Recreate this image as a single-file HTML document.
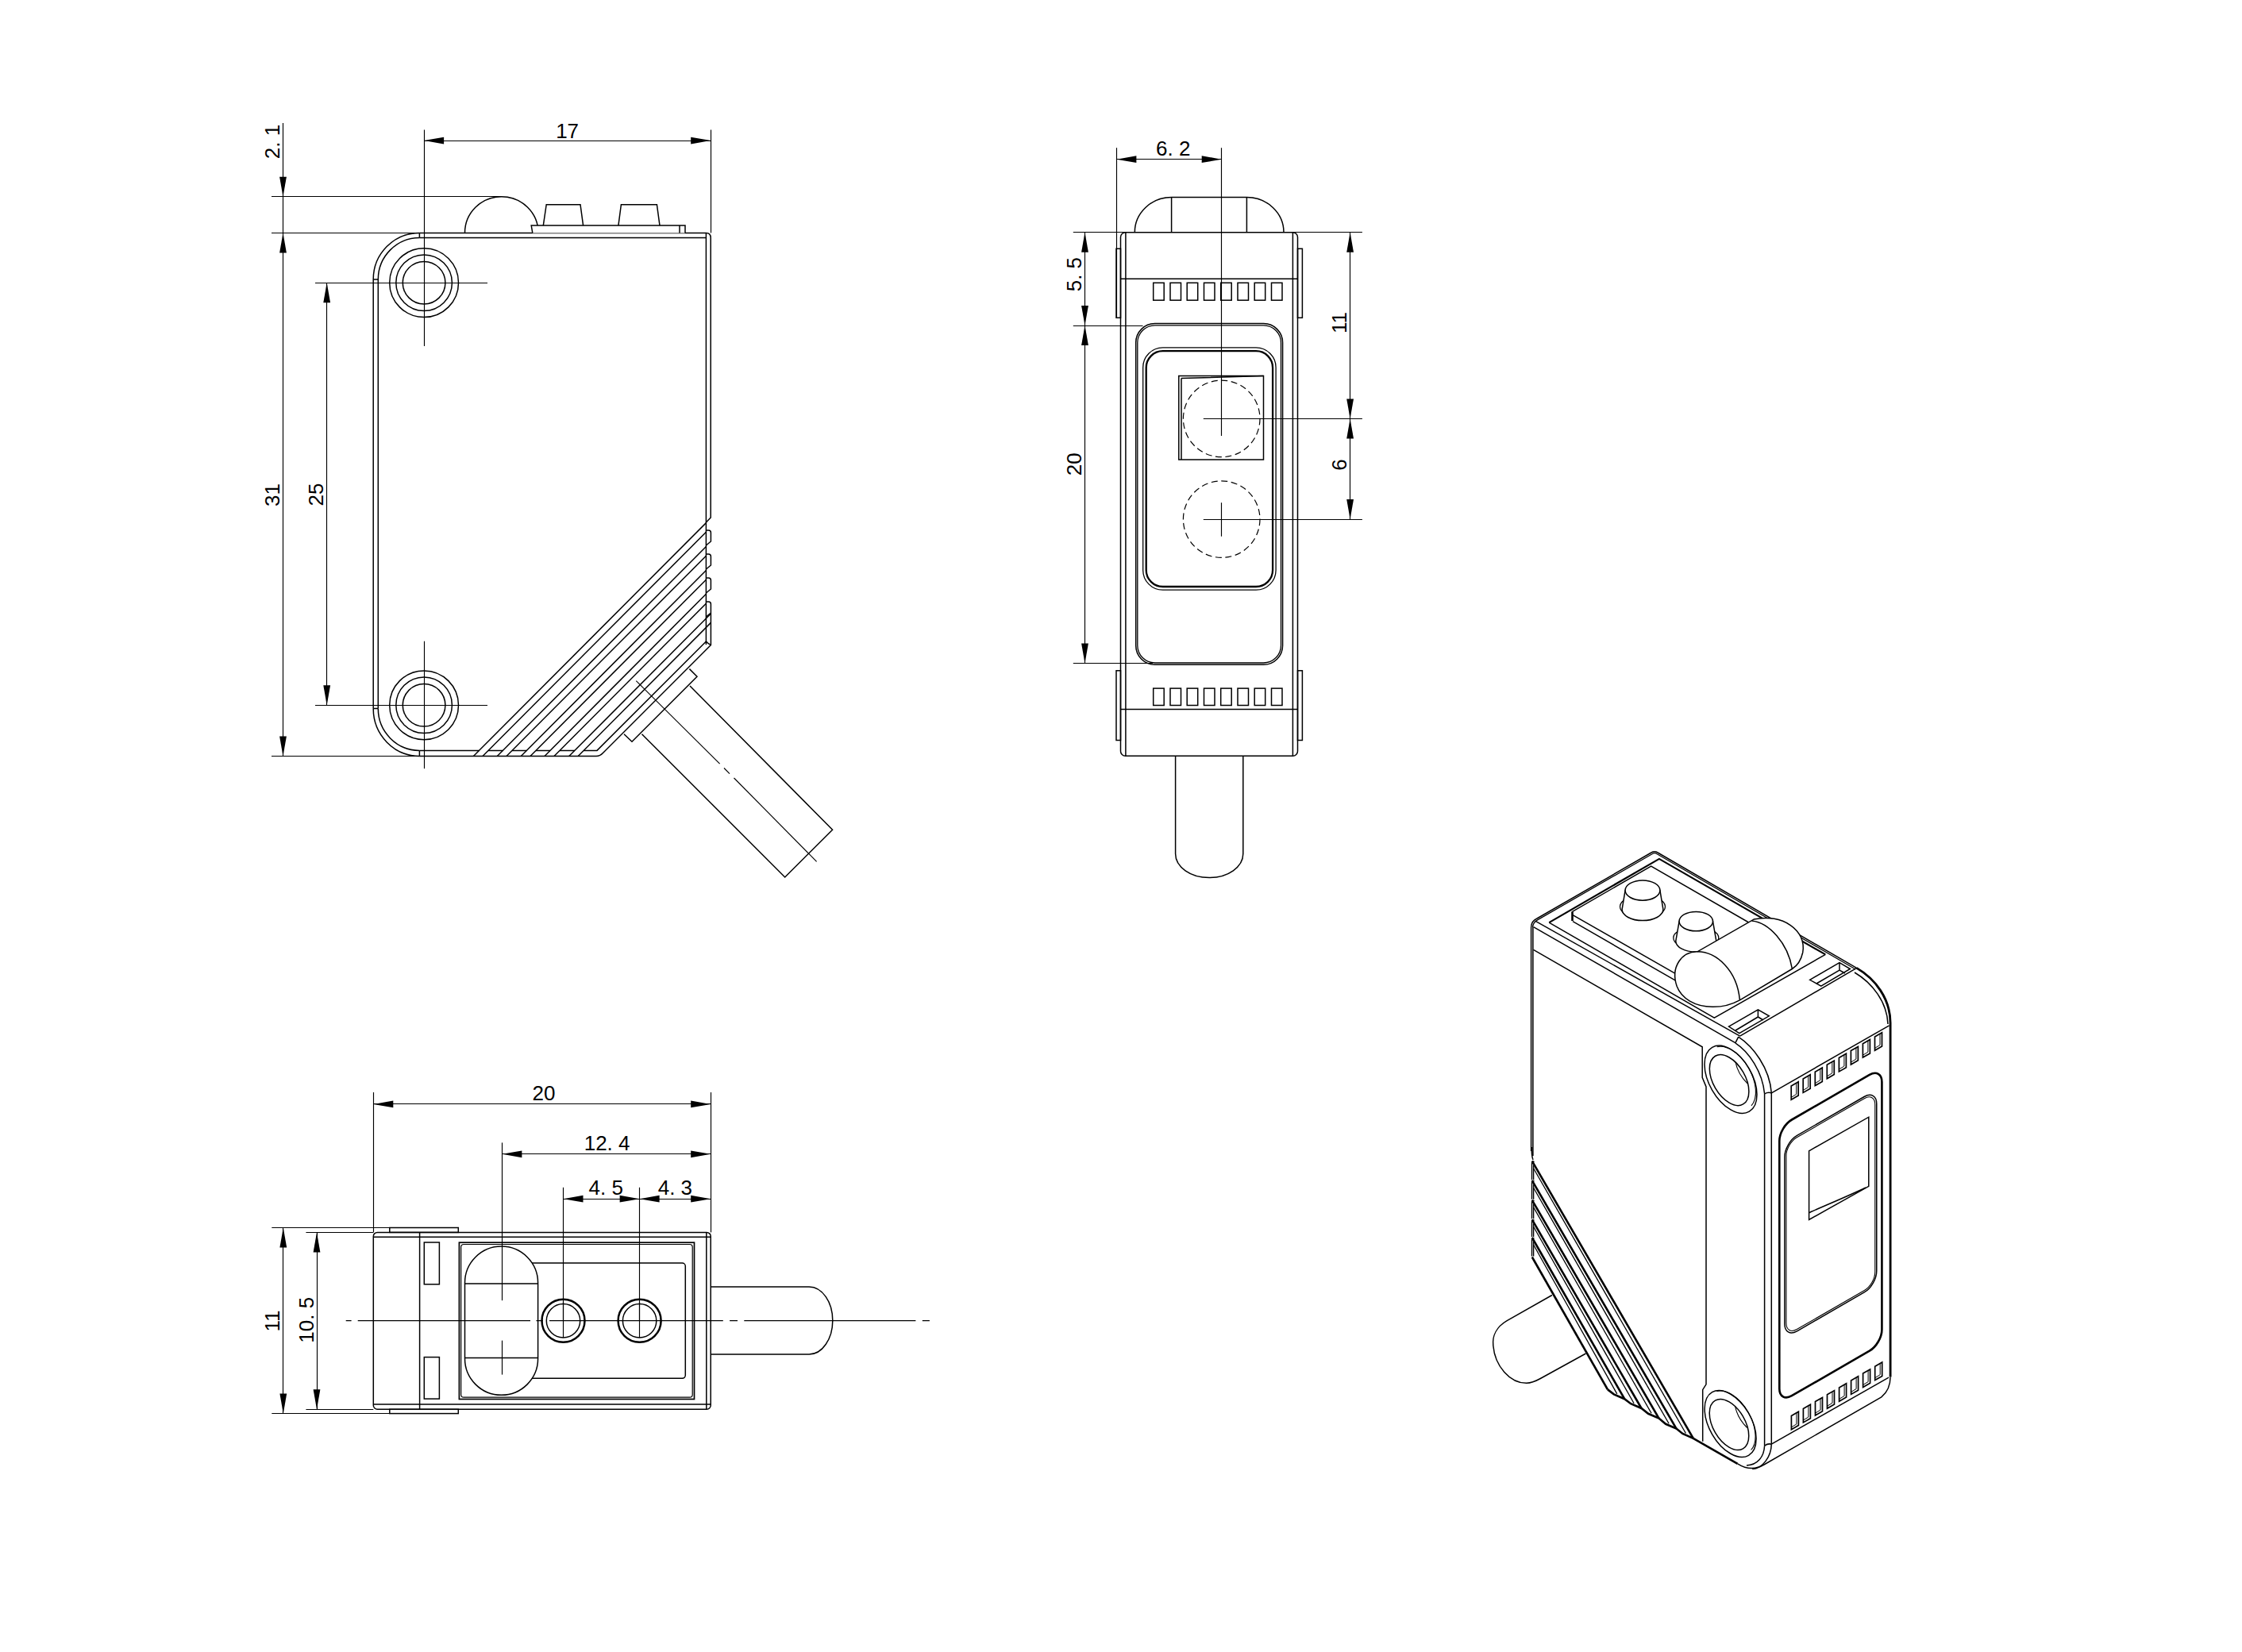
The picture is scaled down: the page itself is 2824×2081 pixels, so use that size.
<!DOCTYPE html>
<html><head><meta charset="utf-8"><style>
html,body{margin:0;padding:0;background:#fff;}
body{width:2824px;height:2081px;overflow:hidden;}
svg{display:block;}
text{font-family:"Liberation Sans",sans-serif;fill:#000;}
.o{stroke:#000;stroke-width:1.5;fill:none;}
.d{stroke:#000;stroke-width:1.15;fill:none;}
.a{fill:#000;stroke:none;}
.dash{stroke:#000;stroke-width:1.2;fill:none;stroke-dasharray:8 4.6;}
</style></head><body>
<svg width="2824" height="2081" viewBox="0 0 2824 2081">
<rect width="2824" height="2081" style="fill:#fff"/>
<line class="d" x1="534.5" y1="163.5" x2="534.5" y2="436.0"/>
<line class="d" x1="895.5" y1="163.5" x2="895.5" y2="293.4"/>
<line class="d" x1="534.1" y1="177.5" x2="895.2" y2="177.5"/>
<path class="a" d="M534.1,177.1 L559.1,172.7 L559.1,181.5Z"/>
<path class="a" d="M895.2,177.1 L870.2,181.5 L870.2,172.7Z"/>
<text x="714.6" y="173.5" font-size="26" text-anchor="middle">17</text>
<line class="d" x1="356.5" y1="155.0" x2="356.5" y2="952.5"/>
<path class="a" d="M356.5,247.7 L352.1,222.7 L360.9,222.7Z"/>
<path class="a" d="M356.5,293.4 L360.9,318.4 L352.1,318.4Z"/>
<path class="a" d="M356.5,952.5 L352.1,927.5 L360.9,927.5Z"/>
<line class="d" x1="342.0" y1="247.5" x2="632.0" y2="247.5"/>
<line class="d" x1="342.0" y1="293.5" x2="528.4" y2="293.5"/>
<line class="d" x1="342.0" y1="952.5" x2="528.4" y2="952.5"/>
<text x="0" y="0" transform="translate(351.5,178.5) rotate(-90)" font-size="26" text-anchor="middle">2. 1</text>
<text x="0" y="0" transform="translate(351.5,623.5) rotate(-90)" font-size="26" text-anchor="middle">31</text>
<line class="d" x1="411.5" y1="356.2" x2="411.5" y2="888.3"/>
<path class="a" d="M411.7,356.2 L416.1,381.2 L407.3,381.2Z"/>
<path class="a" d="M411.7,888.3 L407.3,863.3 L416.1,863.3Z"/>
<text x="0" y="0" transform="translate(406.5,623.0) rotate(-90)" font-size="26" text-anchor="middle">25</text>
<line class="d" x1="397.0" y1="356.5" x2="614.0" y2="356.5"/>
<line class="d" x1="397.0" y1="888.5" x2="614.0" y2="888.5"/>
<line class="d" x1="534.5" y1="807.7" x2="534.5" y2="968.2"/>
<path class="o" d="M528.4,293.4 L889.5,293.4 Q895.2,293.4 895.2,299.5 L895.2,652 L889.4,658" />
<path class="o" d="M528.4,299.5 L889.4,299.5 M889.4,293.4 L889.4,812" />
<path class="o" d="M470.2,352 L470.2,892.6 M476.3,352 L476.3,892.6" />
<path class="o" d="M470.2,352 A58.2,58.6 0 0 1 528.4,293.4 M476.3,352 A52.1,52.5 0 0 1 528.4,299.5" />
<path class="o" d="M470.2,352 L476.3,352 M528.4,293.4 L528.4,299.5 M470.2,892.6 L476.3,892.6 M528.4,952.5 L528.4,945.4" />
<path class="o" d="M470.2,892.6 A58.2,59.9 0 0 0 528.4,952.5 M476.3,892.6 A52.1,52.8 0 0 0 528.4,945.4" />
<path class="o" d="M528.4,952.5 L751,952.5 Q756,952.5 760,948 L895.4,812.5 M528.4,945.4 L603.5,945.4 M615.1,945.4 L633.4,945.4 M645.1,945.4 L663.4,945.4 M675.1,945.4 L693.1,945.4 M705.1,945.4 L723.9,945.4 M735.3,945.4 L752,945.4 L889.4,808 M889.4,808 Q892,811 895.4,812.5" />
<line class="o" x1="596.4" y1="952.5" x2="889.4" y2="658.6"/>
<line class="o" x1="608.0" y1="952.5" x2="889.4" y2="670.2"/>
<line class="o" x1="626.3" y1="952.5" x2="889.4" y2="688.5"/>
<line class="o" x1="638.0" y1="952.5" x2="889.4" y2="700.2"/>
<line class="o" x1="656.3" y1="952.5" x2="889.4" y2="718.5"/>
<line class="o" x1="668.0" y1="952.5" x2="889.4" y2="730.2"/>
<line class="o" x1="686.0" y1="952.5" x2="889.4" y2="748.2"/>
<line class="o" x1="698.0" y1="952.5" x2="889.4" y2="760.2"/>
<line class="o" x1="716.8" y1="952.5" x2="895.4" y2="773.0"/>
<line class="o" x1="728.2" y1="952.5" x2="895.4" y2="784.4"/>
<path class="o" d="M889.4,668 L892.5,668 Q895.4,668 895.4,671 L895.4,682 L889.4,687" />
<path class="o" d="M889.4,698 L892.5,698 Q895.4,698 895.4,701 L895.4,712 L889.4,717" />
<path class="o" d="M889.4,728 L892.5,728 Q895.4,728 895.4,731 L895.4,742 L889.4,747" />
<path class="o" d="M889.4,758 L892.5,758 Q895.4,758 895.4,761 L895.4,772 L889.4,777" />
<path class="o" d="M895.4,772 L895.4,813" />
<circle class="o" cx="534.1" cy="356.2" r="43.4" />
<circle class="o" cx="534.1" cy="356.2" r="35.3" />
<circle class="o" cx="534.1" cy="356.2" r="26.8" />
<circle class="o" cx="534.1" cy="888.3" r="43.4" />
<circle class="o" cx="534.1" cy="888.3" r="35.3" />
<circle class="o" cx="534.1" cy="888.3" r="26.8" />
<path class="o" d="M585.5,293.4 A46.2,45.7 0 0 1 678,293.4" />
<path class="o" d="M670.8,293.4 L669.2,284.1 L863,284.1 L863,293.4" style="fill:#fff"/>
<path class="o" d="M856,284.1 L856,293.4" />
<path class="o" d="M684.3,284.1 L688.2,257.7 L731,257.7 L734.6,284.1" />
<path class="o" d="M778.9,284.1 L782.4,257.7 L827.4,257.7 L831,284.1" />
<path class="o" d="M868.4,842.6 L878,852.3 L796,934.3 L786,924.7" />
<path class="o" d="M869,864 L1048.6,1045.3 L988.7,1105 L808.5,924.7" />
<line class="d" x1="801.3" y1="857.6" x2="906.6" y2="962.2"/>
<line class="d" x1="912.0" y1="967.5" x2="919.0" y2="974.6"/>
<line class="d" x1="924.5" y1="980.0" x2="1028.6" y2="1085.3"/>
<line class="d" x1="1406.5" y1="186.2" x2="1406.5" y2="400.3"/>
<line class="d" x1="1538.5" y1="186.2" x2="1538.5" y2="549.0"/>
<line class="d" x1="1406.4" y1="200.5" x2="1538.7" y2="200.5"/>
<path class="a" d="M1406.4,200.7 L1431.4,196.3 L1431.4,205.1Z"/>
<path class="a" d="M1538.7,200.7 L1513.7,205.1 L1513.7,196.3Z"/>
<text x="1477.7" y="195.6" font-size="26" text-anchor="middle">6. 2</text>
<line class="d" x1="1366.5" y1="292.7" x2="1366.5" y2="835.4"/>
<path class="a" d="M1366.5,292.7 L1370.9,317.7 L1362.1,317.7Z"/>
<path class="a" d="M1366.5,410.0 L1362.1,385.0 L1370.9,385.0Z"/>
<path class="a" d="M1366.5,410.0 L1370.9,435.0 L1362.1,435.0Z"/>
<path class="a" d="M1366.5,835.4 L1362.1,810.4 L1370.9,810.4Z"/>
<line class="d" x1="1351.8" y1="292.5" x2="1715.9" y2="292.5"/>
<line class="d" x1="1351.8" y1="410.5" x2="1439.5" y2="410.5"/>
<line class="d" x1="1351.8" y1="835.5" x2="1452.0" y2="835.5"/>
<text x="0" y="0" transform="translate(1362.0,345.6) rotate(-90)" font-size="26" text-anchor="middle">5. 5</text>
<text x="0" y="0" transform="translate(1362.0,584.7) rotate(-90)" font-size="26" text-anchor="middle">20</text>
<line class="d" x1="1700.5" y1="292.7" x2="1700.5" y2="654.1"/>
<path class="a" d="M1700.6,292.7 L1705.0,317.7 L1696.2,317.7Z"/>
<path class="a" d="M1700.6,527.4 L1696.2,502.4 L1705.0,502.4Z"/>
<path class="a" d="M1700.6,527.4 L1705.0,552.4 L1696.2,552.4Z"/>
<path class="a" d="M1700.6,654.1 L1696.2,629.1 L1705.0,629.1Z"/>
<text x="0" y="0" transform="translate(1695.5,406.6) rotate(-90)" font-size="26" text-anchor="middle">11</text>
<text x="0" y="0" transform="translate(1695.5,585.4) rotate(-90)" font-size="26" text-anchor="middle">6</text>
<line class="d" x1="1515.8" y1="527.5" x2="1715.9" y2="527.5"/>
<line class="d" x1="1515.8" y1="654.5" x2="1715.9" y2="654.5"/>
<line class="d" x1="1538.5" y1="633.2" x2="1538.5" y2="675.7"/>
<path class="o" d="M1429.3,292.7 A46.3,44.2 0 0 1 1475.6,248.5 L1570.4,248.5 A46.6,44.2 0 0 1 1617,292.7" />
<path class="o" d="M1475.6,248.5 L1475.6,292.7 M1570.4,248.5 L1570.4,292.7" />
<rect class="o" x="1411.5" y="292.7" width="223.0" height="659.6" rx="6" />
<path class="o" d="M1417.9,292.7 L1417.9,952.3 M1628.4,292.7 L1628.4,952.3" />
<path class="o" d="M1411.5,351.2 L1634.5,351.2 M1411.5,893.6 L1634.5,893.6" />
<rect class="o" x="1406.0" y="313.3" width="5.5" height="87.0" rx="0" />
<rect class="o" x="1634.5" y="313.3" width="5.9" height="87.0" rx="0" />
<rect class="o" x="1406.0" y="844.8" width="5.5" height="87.7" rx="0" />
<rect class="o" x="1634.5" y="844.8" width="5.9" height="87.7" rx="0" />
<rect class="o" x="1452.7" y="356.3" width="13.5" height="21.9" rx="0" />
<rect class="o" x="1452.7" y="867.1" width="13.5" height="21.4" rx="0" />
<rect class="o" x="1474.0" y="356.3" width="13.5" height="21.9" rx="0" />
<rect class="o" x="1474.0" y="867.1" width="13.5" height="21.4" rx="0" />
<rect class="o" x="1495.2" y="356.3" width="13.5" height="21.9" rx="0" />
<rect class="o" x="1495.2" y="867.1" width="13.5" height="21.4" rx="0" />
<rect class="o" x="1516.5" y="356.3" width="13.5" height="21.9" rx="0" />
<rect class="o" x="1516.5" y="867.1" width="13.5" height="21.4" rx="0" />
<rect class="o" x="1537.7" y="356.3" width="13.5" height="21.9" rx="0" />
<rect class="o" x="1537.7" y="867.1" width="13.5" height="21.4" rx="0" />
<rect class="o" x="1559.0" y="356.3" width="13.5" height="21.9" rx="0" />
<rect class="o" x="1559.0" y="867.1" width="13.5" height="21.4" rx="0" />
<rect class="o" x="1580.2" y="356.3" width="13.5" height="21.9" rx="0" />
<rect class="o" x="1580.2" y="867.1" width="13.5" height="21.4" rx="0" />
<rect class="o" x="1601.5" y="356.3" width="13.5" height="21.9" rx="0" />
<rect class="o" x="1601.5" y="867.1" width="13.5" height="21.4" rx="0" />
<rect class="o" x="1430.7" y="407.6" width="184.9" height="429.6" rx="24" />
<rect class="o" x="1432.8" y="409.8" width="180.7" height="425.2" rx="22" style="stroke-width:1.3"/>
<rect class="o" x="1439.7" y="437.9" width="167.4" height="305.3" rx="25" style="stroke-width:1.3"/>
<rect class="o" x="1443.7" y="442.2" width="159.4" height="296.8" rx="21" style="stroke-width:2.3"/>
<rect class="o" x="1484.8" y="473.5" width="106.7" height="105.5" rx="0" />
<path class="o" d="M1488,476.5 L1591.5,473.5 M1488,476.5 L1488,579" />
<circle class="dash" cx="1538.7" cy="527.4" r="48.3" />
<circle class="dash" cx="1538.7" cy="654.1" r="48.3" />
<path class="o" d="M1480.6,953 L1480.6,1075.6 A42.6,30 0 0 0 1565.8,1075.6 L1565.8,953" />
<rect class="o" x="470.3" y="1552.4" width="424.9" height="222.9" rx="5" />
<path class="o" d="M470.3,1558.2 L895.2,1558.2 M470.3,1769.1 L895.2,1769.1 M889.8,1552.4 L889.8,1775.3 M528.6,1552.4 L528.6,1775.3" />
<rect class="o" x="490.8" y="1546.5" width="86.5" height="5.9" rx="0" />
<rect class="o" x="490.8" y="1775.3" width="86.5" height="5.3" rx="0" />
<rect class="o" x="534.3" y="1565.0" width="19.1" height="52.8" rx="0" />
<rect class="o" x="534.3" y="1709.6" width="19.1" height="52.5" rx="0" />
<rect class="o" x="578.4" y="1565.2" width="296.1" height="197.3" rx="0" style="stroke-width:1.7"/>
<rect class="o" x="580.7" y="1567.5" width="291.5" height="192.7" rx="3.5" style="stroke-width:1.2"/>
<rect class="o" x="640.0" y="1591.1" width="223.3" height="145.2" rx="4" />
<path class="o" d="M631.5,1570.1 A46,46 0 0 1 677.6,1616 L677.6,1711.3 A46,46 0 0 1 585.5,1711.3 L585.5,1616 A46,46 0 0 1 631.5,1570.1Z" style="fill:#fff"/>
<path class="o" d="M585.5,1617 L677.6,1617 M585.5,1710.4 L677.6,1710.4" />
<line class="d" x1="632.5" y1="1688.6" x2="632.5" y2="1731.6"/>
<circle class="o" cx="709.5" cy="1663.7" r="27.0" style="stroke-width:2.5"/>
<circle class="o" cx="709.5" cy="1663.7" r="21.2" />
<circle class="o" cx="805.6" cy="1663.7" r="27.0" style="stroke-width:2.5"/>
<circle class="o" cx="805.6" cy="1663.7" r="21.2" />
<line class="d" x1="709.5" y1="1640.0" x2="709.5" y2="1685.0"/>
<line class="d" x1="805.5" y1="1640.0" x2="805.5" y2="1685.0"/>
<path class="o" d="M895.6,1621 L1019.2,1621 A29.6,42.45 0 0 1 1019.2,1705.9 L895.6,1705.9" />
<line class="d" x1="470.5" y1="1376.0" x2="470.5" y2="1552.4"/>
<line class="d" x1="895.5" y1="1376.0" x2="895.5" y2="1552.4"/>
<line class="d" x1="470.3" y1="1390.5" x2="895.2" y2="1390.5"/>
<path class="a" d="M470.3,1390.9 L495.3,1386.5 L495.3,1395.3Z"/>
<path class="a" d="M895.2,1390.9 L870.2,1395.3 L870.2,1386.5Z"/>
<text x="685.0" y="1386.3" font-size="26" text-anchor="middle">20</text>
<line class="d" x1="632.5" y1="1439.4" x2="632.5" y2="1638.2"/>
<line class="d" x1="632.4" y1="1453.5" x2="895.2" y2="1453.5"/>
<path class="a" d="M632.4,1453.8 L657.4,1449.4 L657.4,1458.2Z"/>
<path class="a" d="M895.2,1453.8 L870.2,1458.2 L870.2,1449.4Z"/>
<text x="764.6" y="1449.0" font-size="26" text-anchor="middle">12. 4</text>
<line class="d" x1="709.5" y1="1495.8" x2="709.5" y2="1663.6"/>
<line class="d" x1="805.5" y1="1495.8" x2="805.5" y2="1663.6"/>
<line class="d" x1="709.5" y1="1510.5" x2="895.2" y2="1510.5"/>
<path class="a" d="M709.5,1510.2 L734.5,1505.8 L734.5,1514.6Z"/>
<path class="a" d="M805.6,1510.2 L780.6,1514.6 L780.6,1505.8Z"/>
<path class="a" d="M805.6,1510.2 L830.6,1505.8 L830.6,1514.6Z"/>
<path class="a" d="M895.2,1510.2 L870.2,1514.6 L870.2,1505.8Z"/>
<text x="763.3" y="1504.8" font-size="26" text-anchor="middle">4. 5</text>
<text x="850.4" y="1504.8" font-size="26" text-anchor="middle">4. 3</text>
<line class="d" x1="356.5" y1="1546.5" x2="356.5" y2="1780.6"/>
<path class="a" d="M356.8,1546.5 L361.2,1571.5 L352.4,1571.5Z"/>
<path class="a" d="M356.8,1780.6 L352.4,1755.6 L361.2,1755.6Z"/>
<line class="d" x1="342.3" y1="1546.5" x2="577.3" y2="1546.5"/>
<line class="d" x1="342.3" y1="1780.5" x2="577.3" y2="1780.5"/>
<line class="d" x1="399.5" y1="1552.4" x2="399.5" y2="1775.3"/>
<path class="a" d="M399.0,1552.4 L403.4,1577.4 L394.6,1577.4Z"/>
<path class="a" d="M399.0,1775.3 L394.6,1750.3 L403.4,1750.3Z"/>
<line class="d" x1="385.4" y1="1552.5" x2="470.3" y2="1552.5"/>
<line class="d" x1="385.4" y1="1775.5" x2="470.3" y2="1775.5"/>
<text x="0" y="0" transform="translate(352.0,1664.0) rotate(-90)" font-size="26" text-anchor="middle">11</text>
<text x="0" y="0" transform="translate(394.5,1662.8) rotate(-90)" font-size="26" text-anchor="middle">10. 5</text>
<path class="d" d="M435.7,1663.6 L442.6,1663.6 M450.7,1663.6 L668,1663.6 M675.5,1663.6 L684,1663.6 M692,1663.6 L910.8,1663.6 M919.1,1663.6 L929,1663.6 M937.3,1663.6 L1153.4,1663.6 M1161.8,1663.6 L1170.9,1663.6"/>
<path class="o" d="M1928.6,1168 L1928.6,1450 M1930.9,1168 L1930.9,1456" />
<path class="o" d="M1928.6,1168 Q1929,1160 1936,1157 L2080,1074 Q2084.1,1071.5 2088,1074 L2338.6,1219.4" />
<path class="o" d="M1930.5,1168 Q1930.8,1162 1937,1158.6 L2081,1075.8 Q2084.1,1073.6 2087.2,1075.8 L2337.2,1221" style="stroke-width:1.3"/>
<path class="o" d="M2338.6,1219.4 C2362,1233 2381.1,1258 2381.1,1288.6 L2381.1,1734.6" style="stroke-width:2.8"/>
<path class="o" d="M2336,1225 C2358,1238 2377,1262 2378,1290" />
<path class="o" d="M2381.1,1734.6 C2381,1748 2376,1755 2369.8,1759.9 L2222,1845 C2212,1851 2200,1851 2188.6,1843.8" />
<path class="o" d="M1933.8,1160.1 L2191.6,1305.2" />
<path class="o" d="M1931.5,1167.6 L2185.8,1313.6" />
<path class="o" d="M2191.6,1305.2 L2338.6,1219.4" />
<path class="o" d="M1951.2,1162.1 L2089.9,1081.9 L2299.3,1202.4" style="stroke-width:2.2"/>
<path class="o" d="M1951.2,1162.1 L2159.3,1282.2 L2299.3,1202.4" />
<path class="o" d="M1980.5,1148.3 L1980.5,1160" style="stroke-width:2.6"/>
<path class="o" d="M1980.5,1148.3 L2079.7,1091.2 L2240,1183.5" />
<path class="o" d="M1981,1152.6 L2112,1227.4 M1981,1160.7 L2110.9,1235.4" />
<path class="o" d="M1931.5,1196.3 L2144.2,1318.8 L2144.2,1357.4 L2149,1369 L2149,1743.9 L2144.7,1750.6 L2144.7,1815.8" />
<ellipse class="o" cx="2069" cy="1142" rx="28.5" ry="14" style="stroke-width:1.3"/>
<path class="o" d="M2047.1,1121.6 L2043.1,1145.6 A25.9,14.0 0 0 0 2094.9,1145.6 L2090.9,1121.6 Z" style="fill:#fff"/>
<ellipse class="o" cx="2069" cy="1121.6" rx="21.9" ry="12.6" style="fill:#fff"/>
<ellipse class="o" cx="2136.3" cy="1181.5" rx="28.5" ry="14" style="stroke-width:1.3"/>
<path class="o" d="M2115.1,1160.6 L2110.8,1185.4 A25.5,13.8 0 0 0 2161.8,1185.4 L2157.5,1160.6 Z" style="fill:#fff"/>
<ellipse class="o" cx="2136.3" cy="1160.6" rx="21.2" ry="12.2" style="fill:#fff"/>
<path class="o" d="M2112.1,1242.3 C2104,1218 2118,1199 2138,1198.8 L2209,1158.1 C2245,1150 2276,1172 2270.7,1200 C2268,1212 2263,1217 2257.4,1220.5 L2191.4,1259.8 C2180,1266 2168,1268.5 2156.9,1268.3 C2135,1268 2118,1258 2112.1,1242.3 Z" style="fill:#fff"/>
<path class="o" d="M2138,1198.8 C2162,1199 2188,1222 2191.4,1259.8" />
<path class="o" d="M2206.5,1160 C2228,1162 2252,1188 2257.4,1220.5" />
<path class="o" d="M2279.6,1234.3 L2317,1212.7 L2330.4,1220.5 L2293.8,1242.2 Z M2288,1239 L2317,1222 L2324,1226 M2317,1212.7 L2317,1222" />
<path class="o" d="M2177.5,1293.1 L2214.4,1271.9 L2228.3,1279.8 L2190.8,1301.6 Z M2186,1298 L2214.4,1281 L2221,1285 M2214.4,1271.9 L2214.4,1281" />
<path class="o" d="M2189.7,1306.1 C2208,1318 2229,1345 2231.3,1376.8 M2185.8,1313.9 C2203,1325 2220,1350 2222.6,1377.8" />
<path class="o" d="M2185.8,1313.9 L2189.7,1306.1 M2222.6,1377.8 Q2227,1375.5 2231.3,1376.8" />
<path class="o" d="M2222.6,1377.8 L2222.6,1821.2 M2231.3,1376.8 L2231.3,1819.2" />
<path class="o" d="M2231.3,1376.8 L2379.6,1291.8" />
<path class="o" d="M2231.3,1819.2 L2379.1,1735.2" />
<path class="o" d="M2222.6,1821.2 Q2227,1818 2231.3,1819.2" />
<path class="o" d="M2222.6,1821.2 C2222,1835 2214,1845 2200,1846 M2231.3,1819.2 C2231,1835 2220,1850 2207.3,1850.5" />
<rect class="o" x="0" y="0" width="149.1" height="347.7" rx="18" ry="18" transform="matrix(0.866,-0.5,0,1,2241.3,1419.5)" style="stroke-width:2.6" vector-effect="non-scaling-stroke"/>
<rect class="o" x="0" y="0" width="133.8" height="246.4" rx="18" ry="18" transform="matrix(0.866,-0.5,0,1,2247.9,1439.4)" vector-effect="non-scaling-stroke"/>
<rect class="o" x="2.3" y="2.3" width="129.2" height="241.8" rx="15.5" ry="15.5" transform="matrix(0.866,-0.5,0,1,2247.9,1439.4)" style="stroke-width:1.1" vector-effect="non-scaling-stroke"/>
<path class="o" d="M2278.6,1449.8 L2353.8,1407.2 L2353.8,1494.4 L2278.6,1536.4 Z" />
<path class="o" d="M2278.6,1527.7 C2300,1518 2325,1508 2350,1496" />
<path class="o" d="M2256.2,1367.9 L2265.2,1362.7 L2265.2,1380.1 L2256.2,1385.3 Z" style="stroke-width:1.7"/>
<path class="o" d="M2262.7,1364.3 L2262.7,1378.4 L2256.2,1382.4" style="stroke-width:1"/>
<path class="o" d="M2256.4,1783.4 L2265.4,1778.2 L2265.4,1795.6 L2256.4,1800.8 Z" style="stroke-width:1.7"/>
<path class="o" d="M2262.9,1779.8 L2262.9,1793.9 L2256.4,1797.9" style="stroke-width:1"/>
<path class="o" d="M2271.2,1359.0 L2280.2,1353.8 L2280.2,1371.2 L2271.2,1376.4 Z" style="stroke-width:1.7"/>
<path class="o" d="M2277.7,1355.4 L2277.7,1369.5 L2271.2,1373.5" style="stroke-width:1"/>
<path class="o" d="M2271.4,1774.5 L2280.4,1769.3 L2280.4,1786.7 L2271.4,1791.9 Z" style="stroke-width:1.7"/>
<path class="o" d="M2277.9,1770.9 L2277.9,1785.0 L2271.4,1789.0" style="stroke-width:1"/>
<path class="o" d="M2286.3,1350.2 L2295.3,1345.0 L2295.3,1362.4 L2286.3,1367.6 Z" style="stroke-width:1.7"/>
<path class="o" d="M2292.8,1346.6 L2292.8,1360.7 L2286.3,1364.7" style="stroke-width:1"/>
<path class="o" d="M2286.5,1765.6 L2295.5,1760.4 L2295.5,1777.8 L2286.5,1783.0 Z" style="stroke-width:1.7"/>
<path class="o" d="M2293.0,1762.0 L2293.0,1776.1 L2286.5,1780.1" style="stroke-width:1"/>
<path class="o" d="M2301.3,1341.3 L2310.3,1336.1 L2310.3,1353.5 L2301.3,1358.7 Z" style="stroke-width:1.7"/>
<path class="o" d="M2307.8,1337.7 L2307.8,1351.8 L2301.3,1355.8" style="stroke-width:1"/>
<path class="o" d="M2301.5,1756.8 L2310.5,1751.6 L2310.5,1769.0 L2301.5,1774.2 Z" style="stroke-width:1.7"/>
<path class="o" d="M2308.0,1753.2 L2308.0,1767.3 L2301.5,1771.3" style="stroke-width:1"/>
<path class="o" d="M2316.4,1332.5 L2325.4,1327.3 L2325.4,1344.7 L2316.4,1349.9 Z" style="stroke-width:1.7"/>
<path class="o" d="M2322.9,1328.9 L2322.9,1343.0 L2316.4,1347.0" style="stroke-width:1"/>
<path class="o" d="M2316.6,1747.9 L2325.6,1742.7 L2325.6,1760.1 L2316.6,1765.3 Z" style="stroke-width:1.7"/>
<path class="o" d="M2323.1,1744.3 L2323.1,1758.4 L2316.6,1762.4" style="stroke-width:1"/>
<path class="o" d="M2331.4,1323.6 L2340.4,1318.4 L2340.4,1335.8 L2331.4,1341.0 Z" style="stroke-width:1.7"/>
<path class="o" d="M2337.9,1320.0 L2337.9,1334.1 L2331.4,1338.1" style="stroke-width:1"/>
<path class="o" d="M2331.6,1739.0 L2340.6,1733.8 L2340.6,1751.2 L2331.6,1756.4 Z" style="stroke-width:1.7"/>
<path class="o" d="M2338.1,1735.4 L2338.1,1749.5 L2331.6,1753.5" style="stroke-width:1"/>
<path class="o" d="M2346.4,1314.7 L2355.4,1309.5 L2355.4,1326.9 L2346.4,1332.1 Z" style="stroke-width:1.7"/>
<path class="o" d="M2352.9,1311.1 L2352.9,1325.2 L2346.4,1329.2" style="stroke-width:1"/>
<path class="o" d="M2346.6,1730.1 L2355.6,1724.9 L2355.6,1742.3 L2346.6,1747.5 Z" style="stroke-width:1.7"/>
<path class="o" d="M2353.1,1726.5 L2353.1,1740.6 L2346.6,1744.6" style="stroke-width:1"/>
<path class="o" d="M2361.5,1305.9 L2370.5,1300.7 L2370.5,1318.1 L2361.5,1323.3 Z" style="stroke-width:1.7"/>
<path class="o" d="M2368.0,1302.3 L2368.0,1316.4 L2361.5,1320.4" style="stroke-width:1"/>
<path class="o" d="M2361.7,1721.2 L2370.7,1716.0 L2370.7,1733.4 L2361.7,1738.6 Z" style="stroke-width:1.7"/>
<path class="o" d="M2368.2,1717.6 L2368.2,1731.7 L2361.7,1735.7" style="stroke-width:1"/>
<circle class="o" cx="0" cy="0" r="38.1" transform="matrix(0.866,0.5,0,1,2180,1359.8)" vector-effect="non-scaling-stroke"/>
<path class="o" d="M-20,-31 A35.5,35.5 0 0 1 30,18" transform="matrix(0.866,0.5,0,1,2180,1359.8)" vector-effect="non-scaling-stroke" style="stroke-width:1.1"/>
<circle class="o" cx="0" cy="0" r="28.6" transform="matrix(0.866,0.5,0,1,2178.1,1360.6)" vector-effect="non-scaling-stroke"/>
<path class="o" d="M2186.0,1337.8 C2188.0,1347.8 2194.0,1357.8 2201.0,1364.8" style="stroke-width:1.1"/>
<circle class="o" cx="0" cy="0" r="37.5" transform="matrix(0.866,0.5,0,1,2179.6,1793.5)" vector-effect="non-scaling-stroke"/>
<path class="o" d="M-20,-31 A35.5,35.5 0 0 1 30,18" transform="matrix(0.866,0.5,0,1,2179.6,1793.5)" vector-effect="non-scaling-stroke" style="stroke-width:1.1"/>
<circle class="o" cx="0" cy="0" r="28.6" transform="matrix(0.866,0.5,0,1,2178,1794.5)" vector-effect="non-scaling-stroke"/>
<path class="o" d="M2185.6,1771.5 C2187.6,1781.5 2193.6,1791.5 2200.6,1798.5" style="stroke-width:1.1"/>
<path class="o" d="M1929.8,1462.7 L2132.8,1811.8" style="stroke-width:2.6"/>
<path class="o" d="M1931.6,1471.7 L2123.4,1805.5" style="stroke-width:1.3"/>
<path class="o" d="M1929.5,1486.2 L1929.5,1465.7 Q1929.5,1461.7 1932.5,1463.7 M1931.6,1467.7 L1931.6,1486.2" style="stroke-width:1.4"/>
<path class="o" d="M1929.8,1487.2 L2111.5,1799.6" style="stroke-width:2.6"/>
<path class="o" d="M1931.6,1496.2 L2102.1,1793.3" style="stroke-width:1.3"/>
<path class="o" d="M1929.5,1510.8 L1929.5,1490.2 Q1929.5,1486.2 1932.5,1488.2 M1931.6,1492.2 L1931.6,1510.8" style="stroke-width:1.4"/>
<path class="o" d="M1929.8,1511.8 L2089.5,1786.6" style="stroke-width:2.6"/>
<path class="o" d="M1931.6,1520.8 L2080.1,1780.3" style="stroke-width:1.3"/>
<path class="o" d="M1929.5,1535.3 L1929.5,1514.8 Q1929.5,1510.8 1932.5,1512.8 M1931.6,1516.8 L1931.6,1535.3" style="stroke-width:1.4"/>
<path class="o" d="M1929.8,1536.3 L2067.5,1774.0" style="stroke-width:2.6"/>
<path class="o" d="M1931.6,1545.3 L2058.1,1767.7" style="stroke-width:1.3"/>
<path class="o" d="M1929.5,1558.0 L1929.5,1539.3 Q1929.5,1535.3 1932.5,1537.3 M1931.6,1541.3 L1931.6,1558.0" style="stroke-width:1.4"/>
<path class="o" d="M1929.8,1559.0 L2046.2,1762.2" style="stroke-width:2.6"/>
<path class="o" d="M1931.6,1568.0 L2036.8,1755.9" style="stroke-width:1.3"/>
<path class="o" d="M1929.5,1582.5 L1929.5,1562.0 Q1929.5,1558.0 1932.5,1560.0 M1931.6,1564.0 L1931.6,1582.5" style="stroke-width:1.4"/>
<path class="o" d="M1929.8,1583.5 L2025.0,1750.4" style="stroke-width:2.6"/>
<path class="o" d="M2025.0,1750.4 L2032.8,1756.4 L2046.2,1762.2 L2054.1,1768.2 L2067.5,1774.0 L2076.1,1780.8 L2089.5,1786.6 L2098.1,1793.8 L2111.5,1799.6 L2119.4,1806.0 L2132.8,1811.8 L2188.6,1843.8" style="stroke-width:2.6"/>
<path class="o" d="M1929.5,1445 Q1928.8,1455 1931,1461" />
<path class="o" d="M1954.9,1631.5 L1897.8,1663.9 C1885,1671.5 1879.5,1683 1880.8,1695 C1883,1721 1902,1742.5 1922.9,1742.3 C1929,1742.2 1934,1740 1940.3,1736.5 L1997.5,1705" />
</svg></body></html>
